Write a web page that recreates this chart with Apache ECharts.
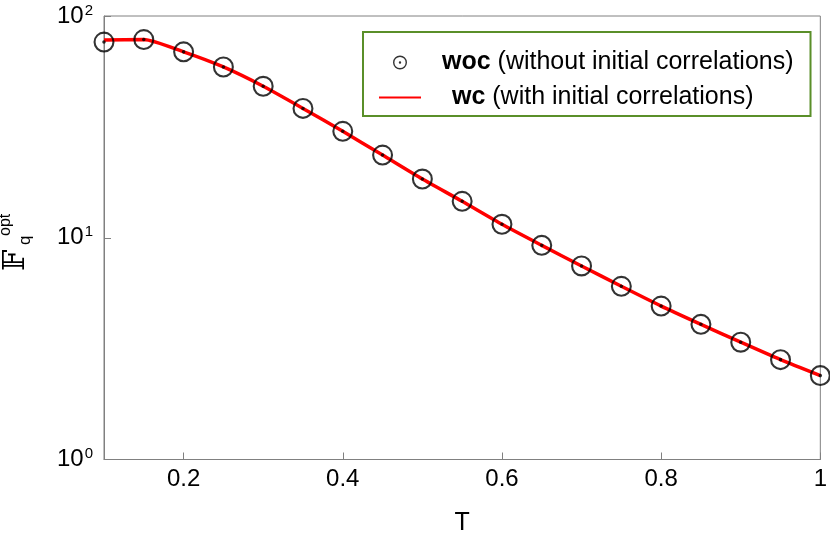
<!DOCTYPE html>
<html>
<head>
<meta charset="utf-8">
<script src="https://cdn.jsdelivr.net/npm/echarts@6/dist/echarts.min.js"></script>
<style>html,body{margin:0;padding:0;background:#fff;}#c{width:830px;height:545px;}</style>
</head>
<body>
<div id="c"></div>
<script>
var T = [0.1, 0.15, 0.2, 0.25, 0.3, 0.35, 0.4, 0.45, 0.5, 0.55, 0.6, 0.65, 0.7, 0.75, 0.8, 0.85, 0.9, 0.95, 1.0];
var wocValues = [76.3, 78.3, 68.9, 58.9, 48.2, 38.3, 30.2, 23.6, 18.4, 14.6, 11.5, 9.24, 7.46, 6.04, 4.92, 4.07, 3.38, 2.82, 2.39];
var wcValues = [78.0, 78.3, 68.9, 58.9, 48.2, 38.3, 30.2, 23.6, 18.4, 14.6, 11.5, 9.24, 7.46, 6.04, 4.92, 4.07, 3.38, 2.82, 2.39];
var xTickValues = [0.2, 0.4, 0.6, 0.8, 1];
var legendNames = ['woc', 'wc'];
var legendRest = [' (without initial correlations)', ' (with initial correlations)'];

var FONT = 'Liberation Sans, Arial, sans-serif';
var GRAY = '#808080';
var ringDot = 'path://M12,2 A10,10 0 1,1 12,22 A10,10 0 1,1 12,2 Z M12,4 A8,8 0 1,0 12,20 A8,8 0 1,0 12,4 Z M12,10.3 A1.7,1.7 0 1,1 12,13.7 A1.7,1.7 0 1,1 12,10.3 Z';

function pairs(xs, ys) { return xs.map(function (x, i) { return [x, ys[i]]; }); }

var chart = echarts.init(document.getElementById('c'), null, {renderer: 'canvas'});
chart.setOption({
  animation: false,
  backgroundColor: '#fff',
  textStyle: {fontFamily: FONT},
  grid: {left: 104, right: 9, top: 16, bottom: 85.5, show: true, borderColor: GRAY, borderWidth: 1, backgroundColor: 'transparent'},
  xAxis: {
    type: 'value', min: 0.1, max: 1,
    name: 'T', nameLocation: 'middle', nameGap: 51,
    nameTextStyle: {fontSize: 25, color: '#000', fontFamily: FONT},
    axisLine: {lineStyle: {color: GRAY, width: 1}},
    axisTick: {inside: true, length: 7, lineStyle: {color: GRAY}, customValues: xTickValues},
    axisLabel: {customValues: xTickValues, fontSize: 24, color: '#000', margin: 8, fontFamily: FONT,
      formatter: function (v) { return String(Math.round(v * 10) / 10); }},
    splitLine: {show: false}
  },
  yAxis: {
    type: 'log', logBase: 10, min: 1, max: 100,
    axisLine: {lineStyle: {color: GRAY, width: 1}},
    axisTick: {inside: true, length: 7, lineStyle: {color: GRAY}},
    minorTick: {show: false},
    axisLabel: {
      margin: 11, color: '#000',
      formatter: function (v) { return '{b|10}{s|' + Math.round(Math.log10(v)) + '}'; },
      rich: {
        b: {fontSize: 24, fontFamily: FONT, color: '#000', lineHeight: 26},
        s: {fontSize: 15, fontFamily: FONT, color: '#000', verticalAlign: 'top', lineHeight: 15, padding: [0, 0, 0, 1]}
      }
    },
    splitLine: {show: false}
  },
  legend: {
    orient: 'vertical', left: 363, top: 32,
    padding: [18, 17, 6, 15],
    itemWidth: 42, itemHeight: 14, itemGap: 10,
    backgroundColor: '#fff', borderColor: '#5a8f29', borderWidth: 2,
    data: [
      {name: 'woc', icon: ringDot},
      {name: 'wc', itemStyle: {opacity: 0}}
    ],
    formatter: function (name) {
      var i = legendNames.indexOf(name);
      return '{b' + i + '|' + name + '}{r|' + legendRest[i] + '}';
    },
    textStyle: {
      fontFamily: FONT, fontSize: 25, color: '#000',
      rich: {
        b0: {fontWeight: 'bold', fontSize: 25, fontFamily: FONT, padding: [0, 0, 0, 16], lineHeight: 27},
        b1: {fontWeight: 'bold', fontSize: 25, fontFamily: FONT, padding: [0, 0, 0, 26], lineHeight: 27},
        r: {fontSize: 25, fontFamily: FONT, lineHeight: 27}
      }
    }
  },
  series: [
    {
      name: 'wc', type: 'line', data: pairs(T, wcValues),
      showSymbol: false, symbol: 'none', smooth: 0.2,
      lineStyle: {color: '#ff0000', width: 3.5}, itemStyle: {color: '#ff0000'}, z: 2
    },
    {
      name: 'woc', type: 'scatter', data: pairs(T, wocValues),
      symbol: ringDot, symbolSize: 21, symbolKeepAspect: true,
      itemStyle: {color: '#000'}, z: 3, clip: false
    }
  ],
  graphic: [{
    type: 'group', x: 24, y: 271, rotation: Math.PI / 2,
    children: [
      {type: 'text', x: 0, y: -8, style: {text: '\uD835\uDD3D', font: '30px DejaVu Serif', fill: '#000', align: 'left', verticalAlign: 'middle'}},
      {type: 'text', x: 35, y: -18.5, style: {text: 'opt', font: '16px ' + FONT, fill: '#000', align: 'left', verticalAlign: 'middle'}},
      {type: 'text', x: 26, y: 1, style: {text: 'q', font: '17px ' + FONT, fill: '#000', align: 'left', verticalAlign: 'middle'}}
    ]
  }]
});
</script>
</body>
</html>
